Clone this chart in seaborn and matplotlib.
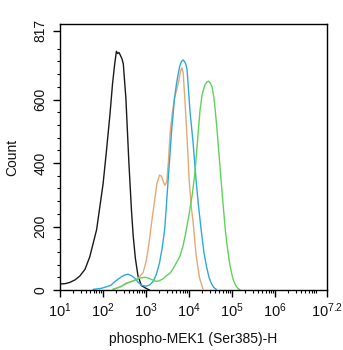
import numpy as np
import pandas as pd
import matplotlib
matplotlib.use("Agg")
import matplotlib.pyplot as plt
import matplotlib.ticker as mticker
import seaborn as sns

# exponents (log10 of intensity) and counts
black_exp = [1.0, 1.12, 1.23, 1.35, 1.46, 1.58, 1.69, 1.85, 2.0, 2.08, 2.16, 2.22, 2.27, 2.31, 2.34, 2.37, 2.40, 2.44, 2.47, 2.53, 2.60, 2.66, 2.70, 2.75, 2.81, 2.89, 3.0, 3.08]
black_cnt = [19, 20, 24, 32, 44, 65, 104, 190, 334, 440, 553, 650, 712, 752, 745, 748, 740, 728, 712, 604, 400, 250, 170, 100, 45, 14, 5, 0]

orange_exp = [2.23, 2.40, 2.54, 2.70, 2.80, 2.93, 3.0, 3.06, 3.12, 3.18, 3.25, 3.31, 3.36, 3.40, 3.44, 3.48, 3.52, 3.56, 3.61, 3.66, 3.71, 3.76, 3.80, 3.83, 3.86, 3.90, 3.95, 4.0, 4.05, 4.09, 4.16, 4.24, 4.32]
orange_cnt = [2, 10, 22, 28, 35, 55, 90, 140, 205, 265, 335, 362, 358, 340, 330, 342, 410, 500, 560, 605, 630, 660, 690, 700, 685, 600, 480, 345, 260, 215, 110, 38, 3]

blue_exp = [1.77, 1.95, 2.08, 2.18, 2.27, 2.36, 2.43, 2.50, 2.58, 2.66, 2.74, 2.81, 2.89, 3.0, 3.08, 3.16, 3.24, 3.31, 3.37, 3.43, 3.47, 3.51, 3.55, 3.59, 3.63, 3.66, 3.70, 3.74, 3.78, 3.82, 3.86, 3.89, 3.92, 3.95, 3.98, 4.02, 4.09, 4.16, 4.22, 4.28, 4.34, 4.40, 4.46, 4.51, 4.57, 4.63]
blue_cnt = [2, 5, 10, 15, 26, 35, 42, 47, 50, 45, 37, 25, 15, 12, 16, 26, 50, 85, 130, 190, 265, 345, 420, 500, 560, 605, 645, 678, 705, 720, 725, 720, 712, 695, 640, 560, 465, 345, 260, 187, 120, 75, 40, 22, 8, 2]

green_exp = [2.23, 2.40, 2.54, 2.66, 2.77, 2.87, 2.97, 3.05, 3.14, 3.24, 3.32, 3.40, 3.47, 3.55, 3.63, 3.70, 3.78, 3.85, 3.92, 4.0, 4.07, 4.13, 4.20, 4.25, 4.30, 4.36, 4.41, 4.45, 4.49, 4.53, 4.57, 4.60, 4.64, 4.68, 4.72, 4.76, 4.80, 4.84, 4.89, 4.94, 4.99, 5.03, 5.08, 5.13, 5.18]
green_cnt = [2, 10, 20, 27, 33, 38, 40, 38, 32, 27, 30, 36, 45, 52, 68, 85, 105, 135, 180, 240, 300, 365, 480, 565, 615, 645, 655, 658, 652, 640, 610, 573, 515, 448, 380, 313, 250, 187, 130, 83, 50, 29, 14, 5, 1]

x_tick_exps = [1, 2, 3, 4, 5, 6, 7.2]
x_tick_labels = [r"$10^{1}$", r"$10^{2}$", r"$10^{3}$", r"$10^{4}$", r"$10^{5}$", r"$10^{6}$", r"$10^{7.2}$"]
y_ticks = [0, 200, 400, 600, 817]
y_tick_labels = ["0", "200", "400", "600", "817"]

series = {
    "black": (black_exp, black_cnt),
    "orange": (orange_exp, orange_cnt),
    "blue": (blue_exp, blue_cnt),
    "green": (green_exp, green_cnt),
}
colors = {"black": "#1a1a1a", "orange": "#e6a877", "blue": "#2fa9d8", "green": "#5ed35a"}

frames = []
for name, (ex, ct) in series.items():
    frames.append(pd.DataFrame({"intensity": np.power(10.0, ex), "count": ct, "sample": name}))
df = pd.concat(frames, ignore_index=True)

sns.set_theme(style="white")
plt.rcParams["font.family"] = ["Liberation Sans", "DejaVu Sans"]
plt.rcParams["mathtext.fontset"] = "custom"
plt.rcParams["mathtext.rm"] = "Liberation Sans"
plt.rcParams["mathtext.it"] = "Liberation Sans"
plt.rcParams["text.color"] = "#111111"
plt.rcParams["axes.labelcolor"] = "#111111"
plt.rcParams["xtick.color"] = "#111111"
plt.rcParams["ytick.color"] = "#111111"

fig = plt.figure(figsize=(3.43, 3.5), dpi=100)
ax = fig.add_axes([60 / 343, 60 / 350, 267 / 343, 266 / 350])

sns.lineplot(data=df, x="intensity", y="count", hue="sample", palette=colors,
             hue_order=["black", "orange", "blue", "green"], legend=False,
             linewidth=1.0, sort=False, estimator=None, ax=ax)

ax.set_xscale("log")
ax.set_xlim(10 ** 1, 10 ** 7.2)
ax.set_ylim(0, 838)

ax.set_xticks([10 ** e for e in x_tick_exps])
ax.set_xticklabels(x_tick_labels, fontsize=10.5)
ax.xaxis.set_minor_locator(mticker.LogLocator(base=10, subs=np.arange(2, 10), numticks=20))
ax.xaxis.set_minor_formatter(mticker.NullFormatter())

ax.set_yticks(y_ticks)
ax.set_yticklabels(y_tick_labels, fontsize=10, rotation=90, va="center")
ax.yaxis.set_minor_locator(mticker.FixedLocator([v for v in range(40, 817, 40) if v % 200 != 0]))

for s in ax.spines.values():
    s.set_color("black")
    s.set_linewidth(1.0)

ax.tick_params(axis="both", which="major", direction="out", length=5, width=1, color="black", bottom=True, left=True, pad=3)
ax.tick_params(axis="both", which="minor", direction="out", length=2.5, width=0.8, color="black", bottom=True, left=True)
ax.tick_params(axis="y", which="major", pad=4)

ax.set_xlabel("phospho-MEK1 (Ser385)-H", fontsize=10, labelpad=9)
ax.set_ylabel("Count", fontsize=10, labelpad=10)
ax.grid(False)

fig.savefig("out.png", dpi=100)
